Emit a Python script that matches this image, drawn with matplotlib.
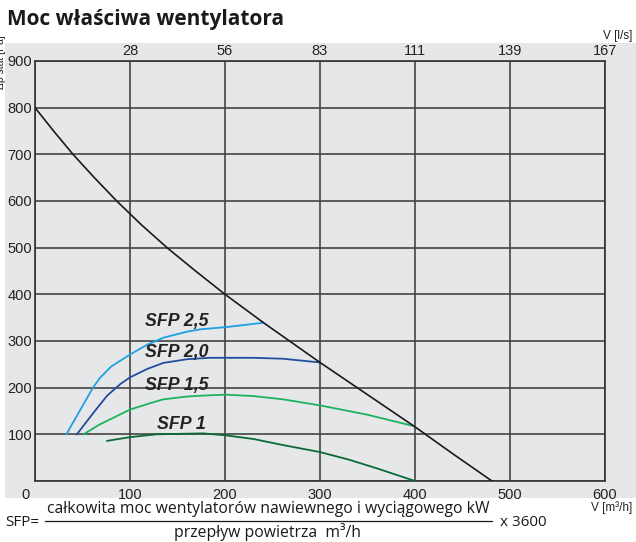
import numpy as np
import matplotlib.pyplot as plt
import matplotlib.transforms as mtransforms
from matplotlib.patches import Rectangle

# data: flow [m3/h], static pressure [Pa]
sys_x = [0, 20, 40, 62, 86, 112, 139, 169, 200, 240, 270, 300, 350, 400, 440, 481]
sys_y = [800, 749, 700, 651, 600, 549, 500, 450, 400, 340, 297, 254, 185, 116, 58, 0]

sfp25_x = [33, 47, 61, 68, 80, 100, 118, 135, 160, 174, 202, 240]
sfp25_y = [100, 150, 200, 220, 245, 271, 292, 307, 320, 325, 330, 339]
sfp20_x = [44, 63, 76, 90, 100, 118, 135, 160, 184, 200, 230, 261, 300]
sfp20_y = [100, 150, 183, 208, 222, 240, 253, 261, 264, 264, 264, 262, 254]
sfp15_x = [51, 68, 85, 100, 120, 135, 160, 177, 200, 230, 261, 300, 350, 400]
sfp15_y = [100, 121, 138, 153, 166, 175, 181, 183, 185, 182, 175, 162, 142, 117]
sfp1_x = [76, 100, 128, 150, 177, 200, 230, 261, 300, 330, 360, 400]
sfp1_y = [86, 94, 100, 101, 102, 98, 90, 77, 62, 46, 27, 0]

x_ticks = [0, 100, 200, 300, 400, 500, 600]
y_ticks = [0, 100, 200, 300, 400, 500, 600, 700, 800, 900]
ls_labels = ['28', '56', '83', '111', '139', '167']
ls_pos = [100, 200, 300, 400, 500, 600]

curves = [
    (sfp25_x, sfp25_y, '#1ea1e1', 'SFP 2,5', 116, 341),
    (sfp20_x, sfp20_y, '#1f4e9e', 'SFP 2,0', 116, 275),
    (sfp15_x, sfp15_y, '#1db25e', 'SFP 1,5', 116, 205),
    (sfp1_x, sfp1_y, '#0b6a38', 'SFP 1', 128, 122),
]

tick_font = 'Liberation Sans'

fig = plt.figure(figsize=(6.36, 5.42), dpi=100)
bg = Rectangle((5 / 636, 1 - 498 / 542), 640 / 636, 455 / 542,
               transform=fig.transFigure, facecolor='#e6e7e9', edgecolor='none', zorder=-5)
fig.add_artist(bg)

ax = fig.add_axes([35 / 636, 1 - 481 / 542, 570 / 636, 420 / 542])
ax.set_zorder(2)
ax.set_facecolor('none')
ax.set_xlim(0, 600)
ax.set_ylim(0, 900)
ax.set_xticks(x_ticks)
ax.set_yticks(y_ticks)
ax.set_xticklabels([str(v) for v in x_ticks], fontsize=10.5, family=tick_font, color='#222222')
ax.set_yticklabels(['' if v == 0 else str(v) for v in y_ticks], fontsize=10.5,
                   family=tick_font, color='#222222')
ax.tick_params(length=0, pad=2)
ax.tick_params(axis='x', pad=5)
lab0 = ax.get_xticklabels()[0]
lab0.set_transform(lab0.get_transform() + mtransforms.ScaledTranslation(-0.1, 0, fig.dpi_scale_trans))
ax.grid(True, color='#444444', lw=1.2)
for s in ax.spines.values():
    s.set_color('#333333')
    s.set_linewidth(1.2)

ax.plot(sys_x, sys_y, color='#1a1a1a', lw=1.2, zorder=4)
for cx, cy, col, name, tx, ty in curves:
    ax.plot(cx, cy, color=col, lw=1.3, zorder=3)
    ax.text(tx, ty, name, fontsize=12.8, fontweight='bold', style='italic',
            family='Liberation Sans', color='#222222', va='center', ha='left', zorder=5)

top = ax.secondary_xaxis('top')
top.set_xticks(ls_pos)
top.set_xticklabels(ls_labels, fontsize=10.5, family=tick_font, color='#222222')
top.tick_params(length=0, pad=2)
top.spines['top'].set_visible(False)

fig.text(7 / 636, 1 - 20 / 542, 'Moc właściwa wentylatora', fontsize=15, fontweight='bold',
         family='Open Sans', color='#1a1a1a', va='center', ha='left')
fig.text(632 / 636, 1 - 36 / 542, 'V [l/s]', fontsize=8.5, family=tick_font,
         color='#222222', va='center', ha='right')
fig.text(632 / 636, 1 - 508 / 542, 'V [m³/h]', fontsize=8.5, family=tick_font,
         color='#222222', va='center', ha='right')
fig.text(-0.006, 1 - 62 / 542, 'Δp stat [Pa]', fontsize=7.5, family=tick_font, rotation=90,
         color='#222222', va='center', ha='left')

fig.text(5 / 636, 1 - 523 / 542, 'SFP=', fontsize=11, family='Open Sans',
         color='#1a1a1a', va='center', ha='left')
fig.text(268 / 636, 1 - 509 / 542, 'całkowita moc wentylatorów nawiewnego i wyciągowego kW',
         fontsize=11.3, family='Open Sans', color='#1a1a1a', va='center', ha='center')
fig.text(268 / 636, 1 - 532 / 542, 'przepływ powietrza  m³/h', fontsize=11.3,
         family='Open Sans', color='#1a1a1a', va='center', ha='center')
fig.text(500 / 636, 1 - 523 / 542, 'x 3600', fontsize=11, family='Open Sans',
         color='#1a1a1a', va='center', ha='left')
fig.add_artist(plt.Line2D([45 / 636, 492 / 636], [1 - 521 / 542, 1 - 521 / 542],
                          transform=fig.transFigure, color='#1a1a1a', lw=0.9))

fig.savefig('out.png', dpi=100)
